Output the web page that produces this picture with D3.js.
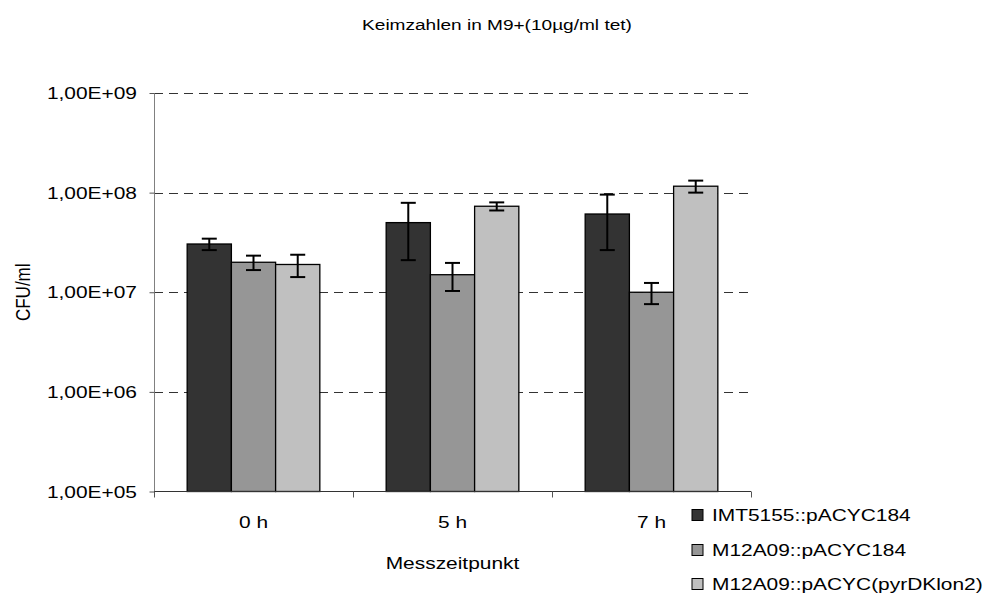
<!DOCTYPE html>
<html>
<head>
<meta charset="utf-8">
<script src="https://cdn.jsdelivr.net/npm/d3@7"></script>
<style>
  html, body { margin: 0; padding: 0; background: #fff; }
  svg text { font-family: "Liberation Sans", Arial, sans-serif; fill: #000; }
</style>
</head>
<body>
<svg id="chart" width="993" height="600"></svg>
<script>
// Colony counts (CFU/ml) per time point and strain, with error bar half-widths
const categories = ["0 h", "5 h", "7 h"];
const seriesNames = ["IMT5155::pACYC184", "M12A09::pACYC184", "M12A09::pACYC(pyrDKlon2)"];
const imtValues = [3.05e7, 5.0e7, 6.1e7];
const imtErrors = [0.4e7, 2.9e7, 3.45e7];
const m12Values = [2.0e7, 1.5e7, 1.0e7];
const m12Errors = [0.33e7, 0.47e7, 0.24e7];
const pyrValues = [1.9e7, 7.3e7, 1.16e8];
const pyrErrors = [0.48e7, 0.68e7, 0.16e8];
const yTickValues = [1e5, 1e6, 1e7, 1e8, 1e9];
const yTickLabels = ["1,00E+05", "1,00E+06", "1,00E+07", "1,00E+08", "1,00E+09"];
const seriesColors = ["#333333", "#969696", "#c0c0c0"];

const titleText = "Keimzahlen in M9+(10µg/ml tet)";
const yTitle = "CFU/ml";
const xTitle = "Messzeitpunkt";

const seriesValues = [imtValues, m12Values, pyrValues];
const seriesErrors = [imtErrors, m12Errors, pyrErrors];

const rows = [];
categories.forEach((cat, ci) => {
  seriesNames.forEach((s, si) => {
    rows.push({ cat, series: s, si, value: seriesValues[si][ci], err: seriesErrors[si][ci] });
  });
});

const svg = d3.select("#chart");
const plot = { left: 154, right: 751, top: 93, bottom: 491.5 };
const textScaleX = 1.23;
const fontSize = 17;

const y = d3.scaleLog().domain([1e5, 1e9]).range([plot.bottom, plot.top]);
const x0 = d3.scaleBand().domain(categories).range([plot.left, plot.right]).padding(0);
const x1 = d3.scaleBand().domain(seriesNames).range([0, x0.bandwidth()]).paddingInner(0).paddingOuter(0.75);

// horizontally widened text, as in the spreadsheet rendering
function addText(parent, px, py, str, anchor, rotate, size) {
  const g = parent.append("g")
    .attr("transform", `translate(${px},${py}) scale(${textScaleX},1)` + (rotate ? ` rotate(${rotate})` : ""));
  g.append("text")
    .attr("text-anchor", anchor || "start")
    .attr("font-size", size || fontSize)
    .text(str);
  return g;
}

// dashed gridlines
svg.append("g").selectAll("line")
  .data(yTickValues.filter(v => v > 1e5))
  .join("line")
  .attr("x1", plot.left).attr("x2", plot.right)
  .attr("y1", d => Math.round(y(d)) + 0.5).attr("y2", d => Math.round(y(d)) + 0.5)
  .attr("stroke", "#333").attr("stroke-width", 1)
  .attr("stroke-dasharray", "9,6");

// y axis
const yAxis = d3.axisLeft(y).tickValues(yTickValues).tickSize(5).tickFormat("");
const yAxisG = svg.append("g").attr("transform", `translate(${plot.left + 0.5},0)`).call(yAxis);
yAxisG.select(".domain").attr("stroke", "#808080").attr("d", `M0,${plot.top}V${plot.bottom}`);
yAxisG.selectAll(".tick line").attr("stroke", "#555");

yTickValues.forEach((v, i) => {
  addText(svg, 137, y(v) + 6, yTickLabels[i], "end");
});

// bars
const groups = svg.append("g").selectAll("g")
  .data(rows)
  .join("g")
  .attr("transform", d => `translate(${x0(d.cat) + x1(d.series)},0)`);

groups.append("rect")
  .attr("x", 0)
  .attr("width", x1.bandwidth())
  .attr("y", d => y(d.value))
  .attr("height", d => plot.bottom - y(d.value))
  .attr("fill", d => seriesColors[d.si])
  .attr("stroke", "#000")
  .attr("stroke-width", 1.3);

// error bars
const capHalf = 7.5;
groups.each(function (d) {
  const g = d3.select(this);
  const cx = x1.bandwidth() / 2;
  const yt = y(d.value + d.err), yb = y(d.value - d.err);
  g.append("line").attr("x1", cx).attr("x2", cx).attr("y1", yt).attr("y2", yb)
    .attr("stroke", "#000").attr("stroke-width", 2);
  [yt, yb].forEach(yy => {
    g.append("line").attr("x1", cx - capHalf).attr("x2", cx + capHalf).attr("y1", yy).attr("y2", yy)
      .attr("stroke", "#000").attr("stroke-width", 2);
  });
});

// x axis
const xAxis = d3.axisBottom(x0).tickSize(0).tickFormat("");
const xAxisG = svg.append("g").attr("transform", `translate(0,${plot.bottom})`).call(xAxis);
xAxisG.select(".domain").attr("stroke", "#333").attr("d", `M${plot.left},0H${plot.right}`);
const boundaries = categories.map(c => x0(c)).concat([x0.range()[1]]);
xAxisG.selectAll(".bound").data(boundaries).join("line")
  .attr("class", "bound")
  .attr("x1", d => Math.round(d) + 0.5).attr("x2", d => Math.round(d) + 0.5)
  .attr("y1", 0).attr("y2", 6)
  .attr("stroke", "#555");

categories.forEach(c => {
  addText(svg, x0(c) + x0.bandwidth() / 2, 528, c, "middle");
});

// titles
addText(svg, 497, 30, titleText, "middle", null, 15.5);
addText(svg, (plot.left + plot.right) / 2, 569, xTitle, "middle");
addText(svg, 30, (plot.top + plot.bottom) / 2, yTitle, "middle", -90);

// legend
const legendRows = [515, 550, 584];
seriesNames.forEach((s, i) => {
  svg.append("rect")
    .attr("x", 692).attr("y", legendRows[i] - 5.5)
    .attr("width", 11).attr("height", 11)
    .attr("fill", seriesColors[i]).attr("stroke", "#000").attr("stroke-width", 1);
  addText(svg, 712, legendRows[i] + 6, s, "start");
});
</script>
</body>
</html>
